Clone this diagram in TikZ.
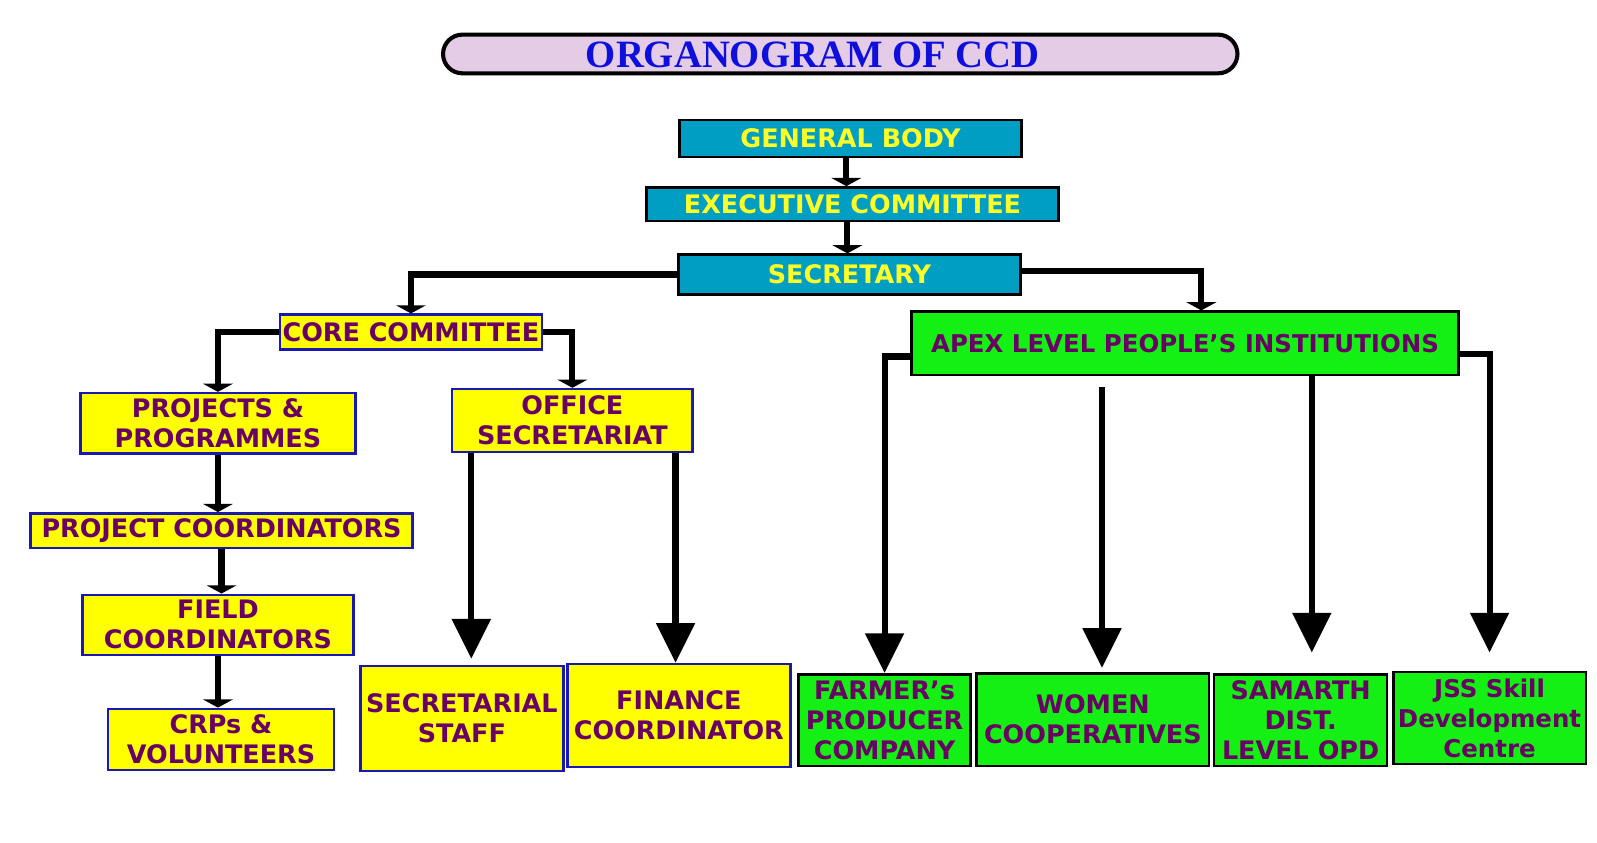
\documentclass[tikz,border=0pt]{standalone}
\usepackage{fontspec}
\setmainfont{DejaVu Sans}
\newfontfamily\titlefont{Liberation Serif}
\usepackage{xcolor}
\definecolor{teal1}{RGB}{0,158,194}
\definecolor{gold1}{RGB}{255,255,0}
\definecolor{txt1}{RGB}{255,255,40}
\definecolor{plum1}{RGB}{105,0,100}
\definecolor{navy1}{RGB}{25,25,175}
\definecolor{lime1}{RGB}{20,240,20}
\definecolor{mauve1}{RGB}{228,204,230}
\definecolor{title1}{RGB}{15,15,220}
\usepackage{tikz}
\usetikzlibrary{positioning, arrows.meta, calc}
\tikzstyle{box} = [
    rectangle, text centered,
    align=center,
    inner sep=0pt,
    font=\bfseries\fontsize{25}{29.5}\selectfont,
    line width=2.5pt,
]
\tikzstyle{board} = [
    box,
    fill=teal1,
    draw=black,
    text=txt1,
]
\tikzstyle{unit} = [
    box,
    fill=gold1,
    draw=navy1,
    text=plum1,
]
\tikzstyle{wing} = [
    box,
    fill=lime1,
    draw=black,
    text=plum1,
]
\tikzstyle{narrow} = [
    font=\bfseries\fontsize{24}{29.5}\selectfont,
]
\tikzstyle{banner} = [
    rectangle,
    rounded corners=19pt,
    minimum width=780pt,
    minimum height=38pt,
    fill=mauve1,
    draw=black,
    line width=4pt,
]
\tikzstyle{arrow} = [-{Triangle[width=29pt,length=8pt]}, line width=6pt]
\tikzstyle{bigarrow} = [-{Triangle[width=37pt,length=39pt]}, line width=6pt]

\begin{document}
\begin{tikzpicture}[x=1pt,y=-1pt]
    \useasboundingbox (0, 0) rectangle (1568, 827);

    % title
    \node (banner) at (825, 53) [banner] {};
    \node (title) at (798, 54) [text=title1, font=\titlefont\bfseries\fontsize{38}{38}\selectfont] {ORGANOGRAM OF CCD};

    % boxes
    \node (gb) at (835, 136) [board, minimum width=336pt, minimum height=36pt] {GENERAL BODY};
    \node (ec) at (837, 200.5) [board, minimum width=404pt, minimum height=33pt] {EXECUTIVE COMMITTEE};
    \node (sec) at (834, 269.5) [board, minimum width=336pt, minimum height=39pt] {SECRETARY};

    \node (core) at (403.5, 326) [unit, minimum width=257pt, minimum height=34pt] {CORE COMMITTEE};
    \node (pp) at (214, 415.5) [unit, minimum width=270pt, minimum height=59pt] {PROJECTS \&\\PROGRAMMES};
    \node (pc) at (217.5, 521) [unit, minimum width=375pt, minimum height=34pt] {PROJECT COORDINATORS};
    \node (fc) at (214, 613.5) [unit, minimum width=266pt, minimum height=59pt] {FIELD\\COORDINATORS};
    \node (crp) at (217, 726) [unit, minimum width=222pt, minimum height=60pt] {CRPs \&\\VOLUNTEERS};
    \node (os) at (562, 413) [unit, minimum width=236pt, minimum height=62pt] {OFFICE\\SECRETARIAT};
    \node (ss) at (453.5, 705.5) [unit, minimum width=199pt, minimum height=103pt] {SECRETARIAL\\STAFF};
    \node (fin) at (666.5, 702.5) [unit, minimum width=219pt, minimum height=101pt] {FINANCE\\COORDINATOR};

    \node (apex) at (1163.5, 337) [wing, narrow, minimum width=537pt, minimum height=62pt] {APEX LEVEL PEOPLE’S INSTITUTIONS};
    \node (fpc) at (868.5, 707) [wing, minimum width=169pt, minimum height=90pt] {FARMER’s\\PRODUCER\\COMPANY};
    \node (wc) at (1073, 706.5) [wing, minimum width=228pt, minimum height=91pt] {WOMEN\\COOPERATIVES};
    \node (sd) at (1277, 707) [wing, minimum width=170pt, minimum height=90pt] {SAMARTH\\DIST.\\LEVEL OPD};
    \node (jss) at (1462.5, 705) [wing, narrow, minimum width=189pt, minimum height=90pt] {JSS Skill\\Development\\Centre};

    % arrows
    \draw [arrow] ([xshift=-4pt]gb.south) to ([xshift=-4pt]gb.south |- ec.north);
    \draw [arrow] ([xshift=-5pt]ec.south) to ([xshift=-5pt]ec.south |- sec.north);
    \draw [arrow] (sec.west) -| (core.north);
    \draw [arrow] ([yshift=3.5pt]sec.east) -| ([xshift=16pt]apex.north);

    \draw [arrow] (core.west) -| (pp.north);
    \draw [arrow] (core.east) -| (os.north);
    \foreach \a/\b in {pp/pc, pc/fc, fc/crp} {
        \draw [arrow] (\a.south) to (\a.south |- \b.north);
    }

    \coordinate (sstop) at ($(os.south west)+(20,0)$);
    \coordinate (fintop) at ($(os.south east)+(-18,0)$);
    \draw [bigarrow, shorten >=6pt] (sstop) to (sstop |- ss.north);
    \draw [bigarrow] (fintop) to (fintop |- fin.north);

    \coordinate (wctop) at ($(apex.south -| wc.north)+(9,11)$);
    \coordinate (sdtop) at ($(apex.south -| sd.north)+(11,0)$);
    \draw [bigarrow] ([yshift=-13pt]apex.west) -| (fpc.north);
    \draw [bigarrow, shorten >=4pt] (wctop) to (wctop |- wc.north);
    \draw [bigarrow, shorten >=20pt] (sdtop) to (sdtop |- sd.north);
    \draw [bigarrow, shorten >=18pt] ([yshift=-11pt]apex.east) -| (jss.north);

\end{tikzpicture}
\end{document}
